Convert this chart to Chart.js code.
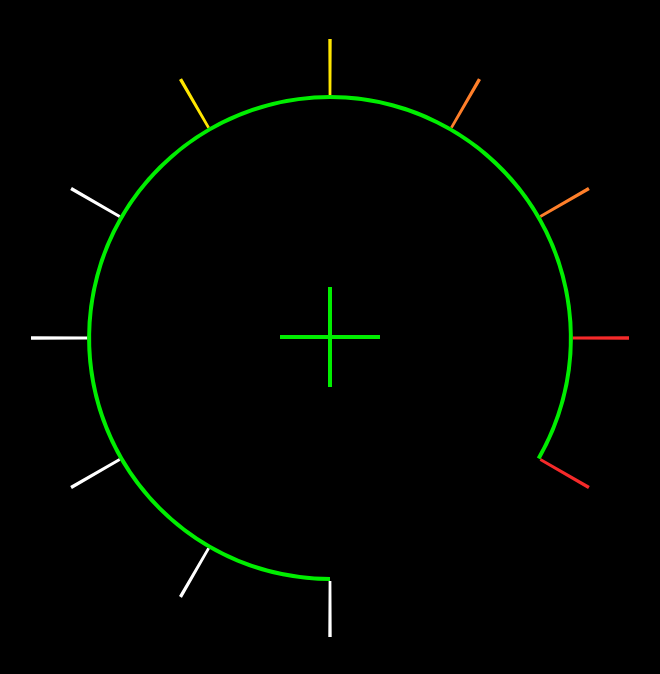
<!DOCTYPE html>
<html lang="en">
<head>
  <meta charset="UTF-8" />
  <title>Dial</title>
  <script src="https://cdn.jsdelivr.net/npm/chart.js"></script>
  <style>
    html, body { margin: 0; padding: 0; background: #000; }
    .wrap { position: relative; width: 660px; height: 674px; }
    .wrap canvas { position: absolute; left: 0; top: 0; }
  </style>
</head>
<body>

<div class="wrap">
  <canvas id="dial" width="660" height="674"></canvas>
  <canvas id="cross" width="660" height="674"></canvas>
</div>

<script>
  // tick marks, degrees clockwise from 12 o'clock (no tick at 150)
  const tickAngles = [0, 30, 60, 90, 120, 180, 210, 240, 270, 300, 330];
  const tickColors = ['#ffe600', '#ff7f2a', '#ff7f2a', '#f52a2a', '#f52a2a',
                      '#ffffff', '#ffffff', '#ffffff', '#ffffff', '#ffffff', '#ffe600'];
  // green arc: starts at 6 o'clock and runs clockwise
  const arcStart = 180;
  const arcSpan = [300, 60];   // drawn part, empty part
  const centerMark = [{ x: 0, y: 0 }];

  const green = '#00ee00';
  const tickWidth = 0.65;  // degrees

  // build alternating tick / gap slices for the outer ring
  const tickData = [], tickBg = [];
  tickAngles.forEach((a, i) => {
    const next = i < tickAngles.length - 1 ? tickAngles[i + 1] : tickAngles[0] + 360;
    tickData.push(tickWidth);
    tickBg.push(tickColors[i]);
    tickData.push(next - a - tickWidth);
    tickBg.push('rgba(0,0,0,0)');
  });

  new Chart(document.getElementById('dial'), {
    type: 'doughnut',
    data: {
      datasets: [
        {
          data: tickData,
          backgroundColor: tickBg,
          rotation: tickAngles[0] - tickWidth / 2,
          weight: 56
        },
        {
          data: arcSpan,
          backgroundColor: [green, 'rgba(0,0,0,0)'],
          rotation: arcStart,
          weight: 4
        }
      ]
    },
    options: {
      responsive: false,
      animation: false,
      radius: 299,
      cutout: '79.9%',
      borderWidth: 0,
      hoverOffset: 0,
      layout: { padding: { top: 2 } },
      plugins: { legend: { display: false }, tooltip: { enabled: false } },
      events: []
    }
  });

  new Chart(document.getElementById('cross'), {
    type: 'scatter',
    data: {
      datasets: [{
        data: centerMark,
        pointStyle: 'cross',
        pointRadius: 50,
        borderWidth: 4,
        borderColor: green
      }]
    },
    options: {
      responsive: false,
      animation: false,
      layout: { padding: { top: 2 } },
      scales: {
        x: { display: false, min: -1, max: 1 },
        y: { display: false, min: -1, max: 1 }
      },
      plugins: { legend: { display: false }, tooltip: { enabled: false } },
      events: []
    }
  });
</script>

</body>
</html>
